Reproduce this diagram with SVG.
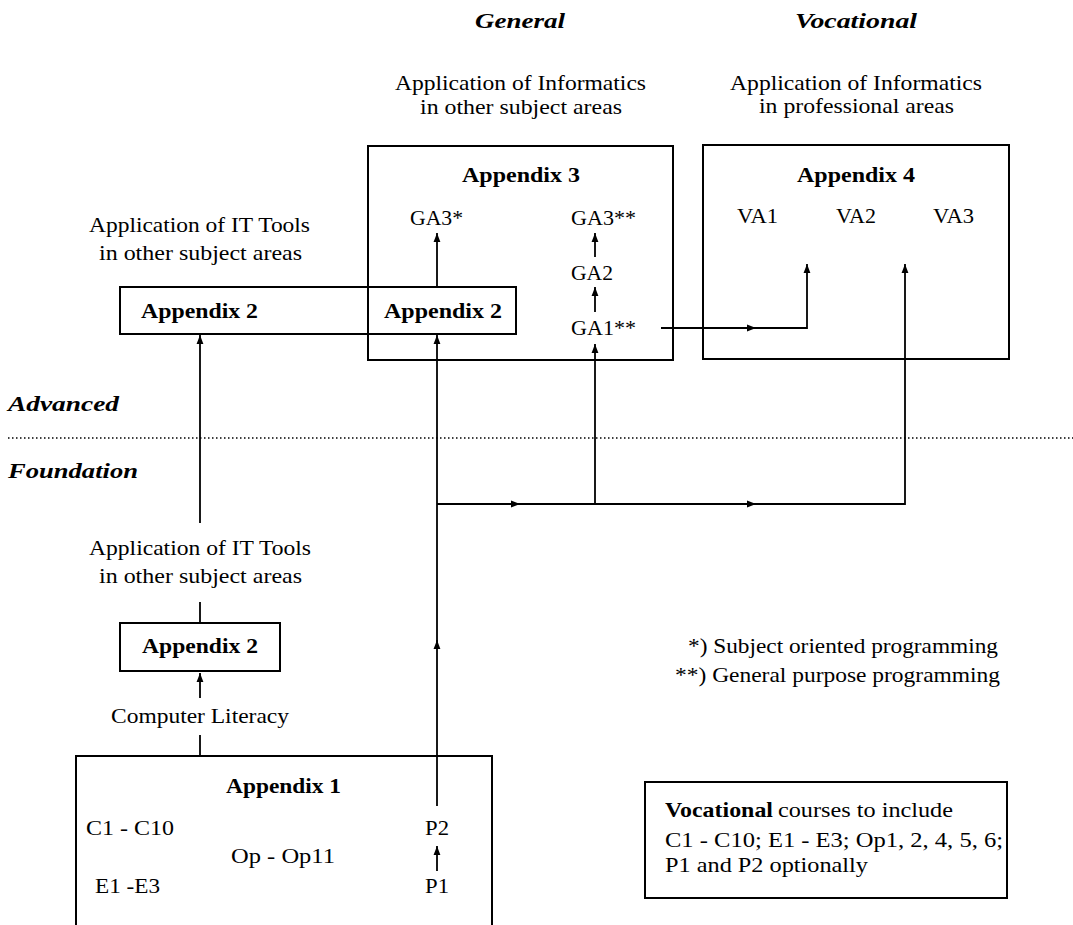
<svg xmlns="http://www.w3.org/2000/svg" width="1073" height="925" viewBox="0 0 1073 925">
<style>
text{font-family:"Liberation Serif","Times New Roman",serif;font-size:22px;fill:#000}
.b{font-weight:bold}
.bi{font-weight:bold;font-style:italic}
.box{fill:none;stroke:#000;stroke-width:2}
.ln{fill:none;stroke:#000;stroke-width:1.8}
.ar{fill:none;stroke:#000;stroke-width:1.8;marker-end:url(#ah)}
</style>
<defs>
<marker id="ah" viewBox="0 0 10 10" refX="10" refY="5" markerWidth="9" markerHeight="9" markerUnits="userSpaceOnUse" orient="auto">
<path d="M0,1.2 L10,5 L0,8.8 Z" fill="#000"/>
</marker>
</defs>
<rect width="1073" height="925" fill="#fff"/>

<g id="headers">
<text class="bi" x="475" y="28" textLength="90" lengthAdjust="spacingAndGlyphs">General</text>
<text class="bi" x="795" y="28" textLength="122" lengthAdjust="spacingAndGlyphs">Vocational</text>
<text x="395" y="90" textLength="251" lengthAdjust="spacingAndGlyphs">Application of Informatics</text>
<text x="420" y="114" textLength="202" lengthAdjust="spacingAndGlyphs">in other subject areas</text>
<text x="730" y="90" textLength="252" lengthAdjust="spacingAndGlyphs">Application of Informatics</text>
<text x="759" y="113" textLength="195" lengthAdjust="spacingAndGlyphs">in professional areas</text>
<text class="bi" x="8" y="411" textLength="111" lengthAdjust="spacingAndGlyphs">Advanced</text>
<text class="bi" x="8" y="478" textLength="130" lengthAdjust="spacingAndGlyphs">Foundation</text>
<line x1="8" y1="438" x2="1073" y2="438" stroke="#000" stroke-width="1.5" stroke-dasharray="1.5,2.5"/>
</g>

<g id="appendix3">
<rect class="box" x="368" y="146" width="305" height="214"/>
<text class="b" x="462" y="182" textLength="118" lengthAdjust="spacingAndGlyphs">Appendix 3</text>
<text x="410" y="225" textLength="53" lengthAdjust="spacingAndGlyphs">GA3*</text>
<text x="571" y="225" textLength="65" lengthAdjust="spacingAndGlyphs">GA3**</text>
<text x="571" y="280" textLength="42" lengthAdjust="spacingAndGlyphs">GA2</text>
<text x="571" y="335" textLength="65" lengthAdjust="spacingAndGlyphs">GA1**</text>
</g>

<g id="appendix4">
<rect class="box" x="703" y="145" width="306" height="214"/>
<text class="b" x="797" y="182" textLength="118" lengthAdjust="spacingAndGlyphs">Appendix 4</text>
<text x="737" y="223" textLength="41" lengthAdjust="spacingAndGlyphs">VA1</text>
<text x="836" y="223" textLength="40" lengthAdjust="spacingAndGlyphs">VA2</text>
<text x="933" y="223" textLength="41" lengthAdjust="spacingAndGlyphs">VA3</text>
</g>

<g id="appendix2-advanced">
<text x="89" y="232" textLength="221" lengthAdjust="spacingAndGlyphs">Application of IT Tools</text>
<text x="99" y="260" textLength="203" lengthAdjust="spacingAndGlyphs">in other subject areas</text>
<rect class="box" x="120" y="287" width="396" height="47"/>
<text class="b" x="141" y="318" textLength="117" lengthAdjust="spacingAndGlyphs">Appendix 2</text>
<text class="b" x="384" y="318" textLength="118" lengthAdjust="spacingAndGlyphs">Appendix 2</text>
</g>

<g id="appendix2-foundation">
<text x="89" y="555" textLength="222" lengthAdjust="spacingAndGlyphs">Application of IT Tools</text>
<text x="99" y="583" textLength="203" lengthAdjust="spacingAndGlyphs">in other subject areas</text>
<rect class="box" x="120" y="623" width="160" height="48"/>
<text class="b" x="142" y="653" textLength="116" lengthAdjust="spacingAndGlyphs">Appendix 2</text>
<text x="111" y="723" textLength="178" lengthAdjust="spacingAndGlyphs">Computer Literacy</text>
</g>

<g id="appendix1">
<path class="box" d="M76,925 V756 H492 V925"/>
<text class="b" x="226" y="793" textLength="115" lengthAdjust="spacingAndGlyphs">Appendix 1</text>
<text x="86" y="835" textLength="88" lengthAdjust="spacingAndGlyphs">C1 - C10</text>
<text x="231" y="863" textLength="104" lengthAdjust="spacingAndGlyphs">Op - Op11</text>
<text x="95" y="893" textLength="65" lengthAdjust="spacingAndGlyphs">E1 -E3</text>
<text x="425" y="835" textLength="24" lengthAdjust="spacingAndGlyphs">P2</text>
<text x="425" y="893" textLength="24" lengthAdjust="spacingAndGlyphs">P1</text>
</g>

<g id="notes">
<text x="688" y="653" textLength="310" lengthAdjust="spacingAndGlyphs">*) Subject oriented programming</text>
<text x="675" y="682" textLength="325" lengthAdjust="spacingAndGlyphs">**) General purpose programming</text>
</g>

<g id="vocational-note">
<rect class="box" x="645" y="782" width="362" height="116"/>
<text x="665" y="817"><tspan class="b" textLength="108" lengthAdjust="spacingAndGlyphs">Vocational</tspan><tspan x="778" textLength="175" lengthAdjust="spacingAndGlyphs">courses to include</tspan></text>
<text x="665" y="847" textLength="338" lengthAdjust="spacingAndGlyphs">C1 - C10; E1 - E3; Op1, 2, 4, 5, 6;</text>
<text x="665" y="872" textLength="203" lengthAdjust="spacingAndGlyphs">P1 and P2 optionally</text>
</g>

<g id="connectors">
<path class="ar" d="M437,287 V233"/>
<path class="ar" d="M595,257 V233"/>
<path class="ar" d="M595,312 V287"/>
<path class="ar" d="M661,328 H756"/>
<path class="ar" d="M754,328 H807 V264"/>
<path class="ar" d="M200,523 V335"/>
<path class="ln" d="M200,602 V623"/>
<path class="ar" d="M200,698 V673"/>
<path class="ln" d="M200,735 V756"/>
<path class="ar" d="M437,871 V846"/>
<path class="ar" d="M437,806 V640"/>
<path class="ar" d="M437,645 V335"/>
<path class="ar" d="M437,504 H520"/>
<path class="ar" d="M516,504 H756"/>
<path class="ar" d="M752,504 H905 V264"/>
<path class="ar" d="M595,504 V344"/>
</g>
</svg>
